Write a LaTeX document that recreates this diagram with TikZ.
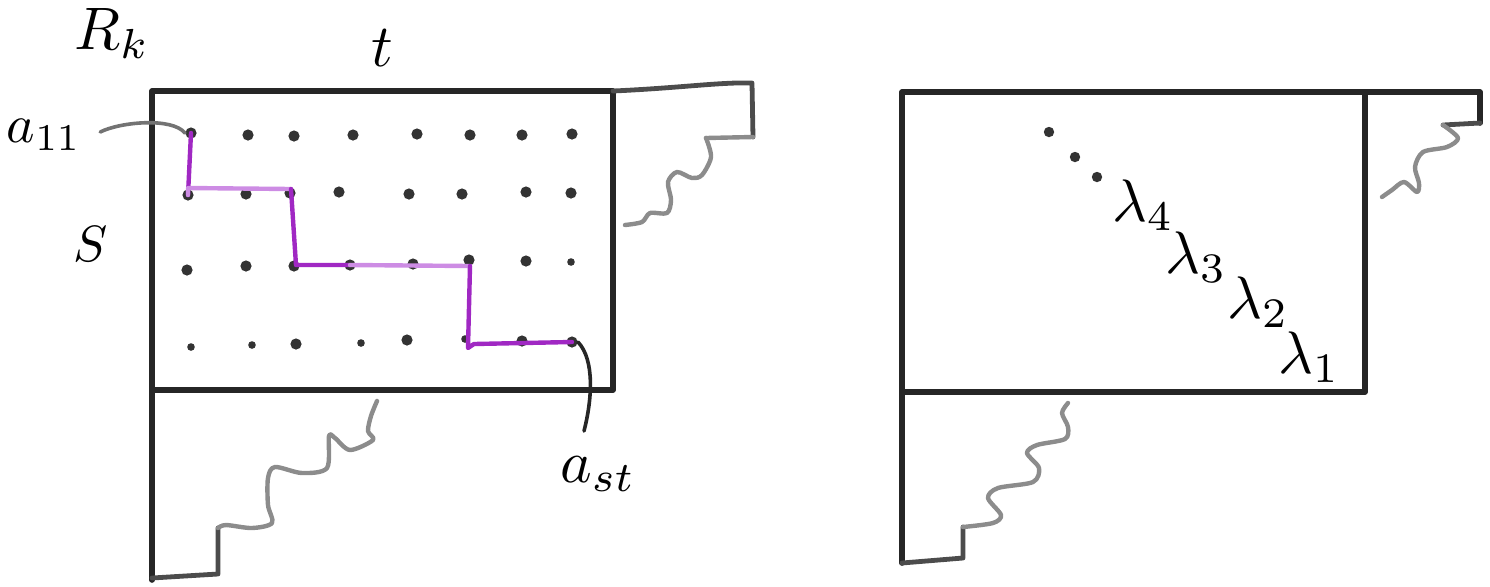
\documentclass[tikz,border=0pt]{standalone}
\definecolor{pdark}{RGB}{160,40,195}
\definecolor{plight}{RGB}{205,140,228}
\tikzset{
  frame/.style={line width=2.8pt, black!85, line cap=round, line join=round},
  wig/.style={line width=2.2pt, black!45, line cap=round, line join=round},
  wigdark/.style={line width=2.4pt, black!70, line cap=round, line join=round},
  dot/.style={circle, fill=black!80, inner sep=0pt, minimum size=5.6pt},
  sdot/.style={circle, fill=black!80, inner sep=0pt, minimum size=3.8pt},
  lbl/.style={scale=3, inner sep=0pt},
  pur/.style={line width=2.2pt, pdark, line cap=round, line join=round},
  purl/.style={line width=2.2pt, plight, line cap=round, line join=round},
  leader/.style={line width=1.8pt, black!55, line cap=round}
}
\begin{document}
\begin{tikzpicture}[x=0.5pt,y=-0.5pt]
\useasboundingbox (0,0) rectangle (1490,586);
% ---------- left figure ----------
\draw[frame] (152,91) rectangle (613,390);
\draw[frame] (152,390) -- (152,580);
\draw[wigdark] (152,578) -- (218,574) -- (218,528);
\draw[wig] plot[smooth, tension=0.5] coordinates {(218,528) (226,525) (252,528) (272,523) (268,505) (268,478) (275,467) (302,473) (327,468) (329,436) (335,438) (350,450) (373,440) (368,431) (371,416) (377,401)};
\draw[wigdark] (613,91) .. controls (680,88) and (720,82) .. (752,83) -- (753,137);
\draw[wig] (753,137) -- (706,138);
\draw[wig] plot[smooth, tension=0.5] coordinates {(706,138) (711,157) (702,175) (692,178) (677,172) (668,182) (671,200) (667,213) (650,213) (642,222) (625,225)};
% dots
\node[dot] (d11) at (191,133) {};
\node[dot] (d12) at (248,135) {};
\node[dot] (d13) at (294,136) {};
\node[dot] (d14) at (353,135) {};
\node[dot] (d15) at (417,134) {};
\node[dot] (d16) at (470,135) {};
\node[dot] (d17) at (522,135) {};
\node[dot] (d18) at (572,134) {};
\node[dot] (d21) at (188,195) {};
\node[dot] (d22) at (246,194) {};
\node[dot] (d23) at (290,193) {};
\node[dot] (d24) at (339,192) {};
\node[dot] (d25) at (409,194) {};
\node[dot] (d26) at (462,194) {};
\node[dot] (d27) at (526,192) {};
\node[dot] (d28) at (571,193) {};
\node[dot] (d31) at (187,270) {};
\node[dot] (d32) at (246,266) {};
\node[dot] (d33) at (294,266) {};
\node[dot] (d34) at (350,265) {};
\node[dot] (d35) at (413,264) {};
\node[dot] (d36) at (469,260) {};
\node[dot] (d37) at (526,261) {};
\node[sdot] (d38) at (571,262) {};
\node[sdot] (d41) at (191,347) {};
\node[sdot] (d42) at (252,345) {};
\node[dot] (d43) at (296,344) {};
\node[sdot] (d44) at (361,343) {};
\node[dot] (d45) at (407,340) {};
\node[sdot] (d46) at (465,339) {};
\node[dot] (d47) at (522,341) {};
\node[dot] (d48) at (572,342) {};
% purple path
\draw[pur] (d11.center) -- (d21.center);
\draw[purl] (d21.center) -- (188,188) -- (291,189);
\draw[pur] (291,189) -- (296,265) -- (d34.center);
\draw[purl] (d34.center) -- (470,266);
\draw[pur] (470,266) -- (468,348) -- (474,344) -- (d48.center);
% labels
\node[lbl] (rk) at (112,33) {$R_k$};
\node[lbl] (tl) at (382,48) {$t$};
\node[lbl, scale=0.85] (sl) at (91,244) {$S$};
\node[lbl, scale=0.9] (a11) at (44,135) {$a_{11}$};
\node[lbl] (ast) at (598,474) {$a_{st}$};
\draw[leader] (a11.east) ++(18,-3) coordinate (a11s);
\draw[leader] (a11s) .. controls (120,122) and (172,117) .. (d11.west);
\draw[line width=1.8pt, black!85, line cap=round] (d48.east) .. controls (595,360) and (592,400) .. (584,431) coordinate (astend);
% ---------- right figure ----------
\draw[frame] (902,92) rectangle (1365,392);
\draw[frame] (1365,92) -- (1480,92) -- (1480,123);
\draw[wigdark] (1480,123) -- (1443,125);
\draw[wig] plot[smooth, tension=0.5] coordinates {(1443,125) (1458,138) (1447,147) (1423,152) (1415,167) (1419,183) (1417,192) (1404,182) (1392,190) (1382,197)};
\draw[frame] (902,392) -- (902,563);
\draw[wigdark] (902,563) -- (963,558) -- (963,527);
\draw[wig] plot[smooth, tension=0.5] coordinates {(963,527) (993,523) (1001,515) (988,498) (998,488) (1033,482) (1039,468) (1027,453) (1037,445) (1065,439) (1068,427) (1062,413) (1068,403)};
\fill[black!80] (1049,132) circle (2.6pt);
\fill[black!80] (1075,157) circle (2.6pt);
\fill[black!80] (1097,177) circle (2.6pt);
\node[lbl] (l4) at (1143,205) {$\lambda_4$};
\node[lbl] (l3) at (1196,257) {$\lambda_3$};
\node[lbl] (l2) at (1258,302) {$\lambda_2$};
\node[lbl] (l1) at (1309,357) {$\lambda_1$};
\end{tikzpicture}
\end{document}
